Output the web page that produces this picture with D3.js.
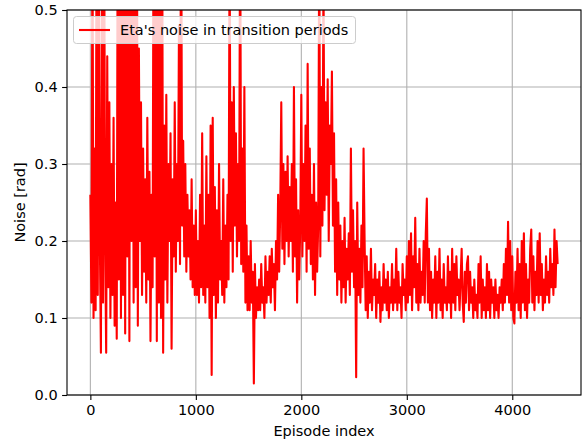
<!DOCTYPE html>
<html>
<head>
<meta charset="utf-8">
<script src="https://cdn.jsdelivr.net/npm/d3@7"></script>
<style>
  html, body { margin: 0; padding: 0; background: #fff; }
  svg { display: block; font-family: "DejaVu Sans", sans-serif; }
</style>
</head>
<body>
<svg id="chart" width="582" height="444"></svg>
<script>
// ---- data (noise per 10-episode step) ----
const episodeStep = 10;
const noiseValues = [
  0.26, 0.12, 0.62, 0.10, 0.32, 0.11, 0.70, 0.13, 0.55, 0.20,
  0.055, 0.60, 0.12, 0.66, 0.20, 0.055, 0.44, 0.14, 0.38, 0.10,
  0.30, 0.13, 0.36, 0.09, 0.25, 0.073, 0.70, 0.15, 0.80, 0.10,
  0.60, 0.13, 0.75, 0.08, 0.70, 0.18, 0.65, 0.07, 0.80, 0.20,
  0.70, 0.12, 0.60, 0.14, 0.75, 0.09, 0.45, 0.20, 0.38, 0.13,
  0.32, 0.16, 0.28, 0.12, 0.36, 0.15, 0.29, 0.07, 0.26, 0.14,
  0.70, 0.18, 0.65, 0.07, 0.80, 0.12, 0.60, 0.10, 0.70, 0.055,
  0.35, 0.15, 0.39, 0.12, 0.30, 0.20, 0.34, 0.06, 0.28, 0.18,
  0.38, 0.16, 0.30, 0.20, 0.48, 0.17, 0.70, 0.22, 0.33, 0.18,
  0.30, 0.16, 0.26, 0.18, 0.24, 0.15, 0.28, 0.14, 0.22, 0.13,
  0.24, 0.13, 0.20, 0.12, 0.26, 0.14, 0.34, 0.13, 0.22, 0.12,
  0.31, 0.14, 0.26, 0.10, 0.35, 0.026, 0.36, 0.13, 0.27, 0.10,
  0.24, 0.12, 0.30, 0.15, 0.20, 0.13, 0.28, 0.12, 0.22, 0.14,
  0.26, 0.15, 0.60, 0.20, 0.38, 0.16, 0.40, 0.22, 0.34, 0.18,
  0.30, 0.20, 0.65, 0.17, 0.32, 0.16, 0.40, 0.12, 0.22, 0.11,
  0.18, 0.11, 0.20, 0.12, 0.16, 0.015, 0.17, 0.10, 0.14, 0.11,
  0.15, 0.11, 0.17, 0.12, 0.14, 0.10, 0.18, 0.12, 0.16, 0.13,
  0.18, 0.12, 0.19, 0.14, 0.17, 0.11, 0.20, 0.15, 0.26, 0.16,
  0.24, 0.38, 0.19, 0.30, 0.17, 0.29, 0.20, 0.31, 0.18, 0.27,
  0.20, 0.30, 0.16, 0.40, 0.18, 0.28, 0.12, 0.24, 0.15, 0.22,
  0.39, 0.18, 0.30, 0.20, 0.35, 0.16, 0.43, 0.19, 0.32, 0.17,
  0.26, 0.15, 0.30, 0.13, 0.25, 0.16, 0.22, 0.60, 0.18, 0.40,
  0.22, 0.55, 0.24, 0.38, 0.26, 0.41, 0.20, 0.35, 0.30, 0.42,
  0.22, 0.34, 0.16, 0.28, 0.13, 0.25, 0.15, 0.22, 0.12, 0.20,
  0.14, 0.23, 0.12, 0.19, 0.15, 0.21, 0.13, 0.32, 0.16, 0.24,
  0.14, 0.20, 0.023, 0.25, 0.13, 0.19, 0.12, 0.22, 0.14, 0.32,
  0.20, 0.11, 0.18, 0.10, 0.16, 0.12, 0.19, 0.11, 0.15, 0.13,
  0.17, 0.10, 0.15, 0.12, 0.16, 0.095, 0.14, 0.11, 0.17, 0.12,
  0.15, 0.11, 0.16, 0.10, 0.14, 0.12, 0.17, 0.11, 0.15, 0.12,
  0.19, 0.11, 0.16, 0.12, 0.14, 0.10, 0.17, 0.13, 0.15, 0.11,
  0.18, 0.12, 0.20, 0.13, 0.21, 0.11, 0.18, 0.14, 0.23, 0.12,
  0.17, 0.11, 0.19, 0.12, 0.16, 0.13, 0.20, 0.12, 0.21, 0.255,
  0.12, 0.19, 0.11, 0.16, 0.10, 0.15, 0.12, 0.18, 0.10, 0.16,
  0.12, 0.19, 0.11, 0.15, 0.10, 0.17, 0.12, 0.14, 0.11, 0.18,
  0.12, 0.16, 0.10, 0.19, 0.12, 0.17, 0.11, 0.18, 0.13, 0.15,
  0.11, 0.15, 0.19, 0.12, 0.095, 0.16, 0.12, 0.17, 0.18, 0.11,
  0.16, 0.12, 0.14, 0.10, 0.15, 0.11, 0.13, 0.10, 0.17, 0.12,
  0.18, 0.10, 0.15, 0.11, 0.14, 0.10, 0.17, 0.11, 0.16, 0.10,
  0.15, 0.12, 0.14, 0.10, 0.15, 0.11, 0.13, 0.10, 0.14, 0.12,
  0.15, 0.11, 0.17, 0.12, 0.19, 0.13, 0.225, 0.12, 0.20, 0.11,
  0.18, 0.10, 0.093, 0.16, 0.12, 0.19, 0.11, 0.17, 0.10, 0.20,
  0.12, 0.21, 0.11, 0.17, 0.10, 0.15, 0.12, 0.19, 0.215, 0.12,
  0.18, 0.11, 0.16, 0.13, 0.20, 0.12, 0.21, 0.13, 0.17, 0.11,
  0.15, 0.12, 0.18, 0.13, 0.16, 0.12, 0.19, 0.14, 0.17, 0.13,
  0.215, 0.14, 0.20, 0.17
];
const xTicks = [0, 1000, 2000, 3000, 4000];
const yTicks = [0.0, 0.1, 0.2, 0.3, 0.4, 0.5];
const seriesLabel = "Eta's noise in transition periods";
const xLabel = "Episode index";
const yLabel = "Noise [rad]";

// ---- layout ----
const svg = d3.select("#chart");
const m = { left: 67, right: 581, top: 10, bottom: 395 };
const data = noiseValues.map((v, i) => ({ x: i * episodeStep, y: v }));
const xMax = d3.max(data, d => d.x);
const pad = xMax * 0.05;
const FS = 14.5;

const x = d3.scaleLinear().domain([-pad, xMax + pad]).range([m.left, m.right]);
const y = d3.scaleLinear().domain([0, 0.5]).range([m.bottom, m.top]);

svg.append("defs").append("clipPath").attr("id", "clip")
  .append("rect").attr("x", m.left).attr("y", m.top)
  .attr("width", m.right - m.left).attr("height", m.bottom - m.top);

// grid
const grid = svg.append("g");
grid.selectAll(".gx").data(xTicks).enter().append("line")
  .attr("x1", d => x(d)).attr("x2", d => x(d))
  .attr("y1", m.top).attr("y2", m.bottom)
  .attr("stroke", "#b0b0b0").attr("stroke-width", 1.1);
grid.selectAll(".gy").data(yTicks).enter().append("line")
  .attr("x1", m.left).attr("x2", m.right)
  .attr("y1", d => y(d)).attr("y2", d => y(d))
  .attr("stroke", "#b0b0b0").attr("stroke-width", 1.1);

// line
const line = d3.line().x(d => x(d.x)).y(d => y(d.y));
svg.append("path").datum(data)
  .attr("clip-path", "url(#clip)")
  .attr("fill", "none").attr("stroke", "#ff0000")
  .attr("stroke-width", 2.1).attr("stroke-linejoin", "round")
  .attr("d", line);

// axes
const xAxis = svg.append("g").attr("transform", `translate(0,${m.bottom})`)
  .call(d3.axisBottom(x).tickValues(xTicks).tickFormat(d3.format("d")).tickSize(4.9).tickPadding(4.5));
const yAxis = svg.append("g").attr("transform", `translate(${m.left},0)`)
  .call(d3.axisLeft(y).tickValues(yTicks).tickFormat(d3.format(".1f")).tickSize(4.9).tickPadding(4.5));
[xAxis, yAxis].forEach(a => {
  a.select(".domain").remove();
  a.selectAll("text").attr("font-size", FS).attr("fill", "#000")
    .attr("font-family", "DejaVu Sans, sans-serif");
  a.selectAll("line").attr("stroke", "#000").attr("stroke-width", 1.1);
});

// frame
svg.append("rect").attr("x", m.left).attr("y", m.top)
  .attr("width", m.right - m.left).attr("height", m.bottom - m.top)
  .attr("fill", "none").attr("stroke", "#000").attr("stroke-width", 1.1);

// labels
svg.append("text").attr("x", (m.left + m.right) / 2).attr("y", 436)
  .attr("text-anchor", "middle").attr("font-size", FS).text(xLabel);
svg.append("text").attr("transform", `translate(25,${(m.top + m.bottom) / 2}) rotate(-90)`)
  .attr("text-anchor", "middle").attr("font-size", FS).text(yLabel);

// legend
const lg = svg.append("g");
lg.append("rect").attr("x", 73.5).attr("y", 16.5).attr("width", 282).attr("height", 27)
  .attr("rx", 3).attr("fill", "#fff").attr("fill-opacity", 0.8)
  .attr("stroke", "#cccccc").attr("stroke-width", 1);
lg.append("line").attr("x1", 79).attr("x2", 110).attr("y1", 30).attr("y2", 30)
  .attr("stroke", "#ff0000").attr("stroke-width", 2.1);
lg.append("text").attr("x", 120).attr("y", 35).attr("font-size", FS).text(seriesLabel);
</script>
</body>
</html>
